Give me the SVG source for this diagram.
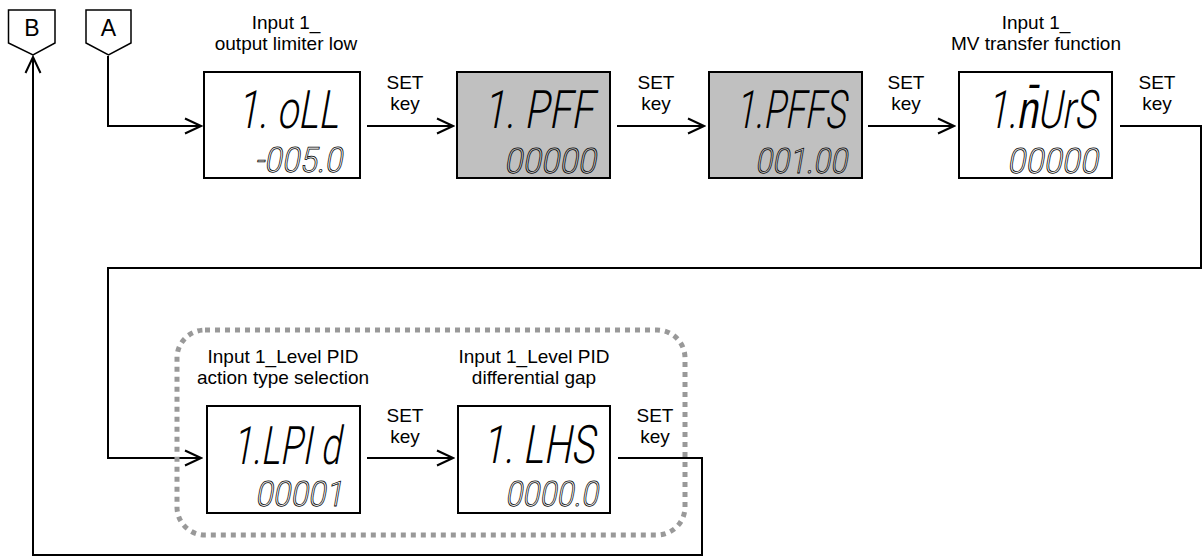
<svg xmlns="http://www.w3.org/2000/svg" width="1203" height="557" viewBox="0 0 1203 557">
<style>
.box{fill:#fff;stroke:#000;stroke-width:2}
.gbox{fill:#c0c0c0;stroke:#000;stroke-width:2}
.lbl{font-family:"Liberation Sans",Arial,sans-serif;font-size:19px;fill:#000;text-anchor:middle}
.tag{font-family:"Liberation Sans",Arial,sans-serif;font-size:23px;fill:#000;text-anchor:middle}
.big{font-family:Roboto,"Liberation Sans",sans-serif;font-weight:300;font-size:53px;fill:#000}
.small{font-family:Roboto,"Liberation Sans",sans-serif;font-weight:300;font-size:35px;fill:none;stroke:#000;stroke-width:0.8}
.ln{fill:none;stroke:#000;stroke-width:2}
.dash{fill:none;stroke:#999;stroke-width:5;stroke-dasharray:5 5}
</style>
<defs>
<marker id="ah" markerUnits="userSpaceOnUse" markerWidth="20" markerHeight="20" viewBox="-18 -10 20 20" refX="0" refY="0" orient="auto">
<path d="M-16,-7.5 L0,0 L-16,7.5" fill="none" stroke="#000" stroke-width="2"/>
</marker>
</defs>

<g id="tagB">
<path d="M8.5,10 H55 V43 L33,55 L8.5,43 Z" fill="#fff" stroke="#000" stroke-width="1.5"/>
<text class="tag" x="32" y="36">B</text>
</g>
<g id="tagA">
<path d="M86,10 H131 V43 L108.5,55 L86,43 Z" fill="#fff" stroke="#000" stroke-width="1.5"/>
<text class="tag" x="108.5" y="36">A</text>
</g>

<g id="connectors">
<path class="ln" d="M108,56 V126 H201" marker-end="url(#ah)"/>
<path class="ln" d="M367,126 H453" marker-end="url(#ah)"/>
<path class="ln" d="M617,126 H704" marker-end="url(#ah)"/>
<path class="ln" d="M868,126 H954" marker-end="url(#ah)"/>
<path class="ln" d="M1120,126 H1201 V268 H108 V458 H201" marker-end="url(#ah)"/>
<path class="ln" d="M367,458 H453" marker-end="url(#ah)"/>
<path class="ln" d="M618,458 H702 V555 H33 V57" marker-end="url(#ah)"/>
<text class="lbl" x="405" y="89">SET</text><text class="lbl" x="405" y="110">key</text>
<text class="lbl" x="656" y="89">SET</text><text class="lbl" x="656" y="110">key</text>
<text class="lbl" x="906" y="89">SET</text><text class="lbl" x="906" y="110">key</text>
<text class="lbl" x="1157" y="89">SET</text><text class="lbl" x="1157" y="110">key</text>
<text class="lbl" x="405" y="422">SET</text><text class="lbl" x="405" y="443">key</text>
<text class="lbl" x="655" y="422">SET</text><text class="lbl" x="655" y="443">key</text>
</g>

<g id="group-level-pid">
<rect class="dash" x="177" y="330" width="508" height="205" rx="28" ry="28"/>
</g>

<g id="node-oLL">
<text class="lbl" x="286" y="29">Input 1_</text>
<text class="lbl" x="286" y="50">output limiter low</text>
<rect class="box" x="204" y="72" width="156" height="106"/>
<g transform="translate(237,128) skewX(-10)"><text class="big" x="0" y="0" textLength="101" lengthAdjust="spacingAndGlyphs">1. oLL</text></g>
<g transform="translate(255,172) skewX(-10)"><text class="small" x="0" y="0" textLength="87" lengthAdjust="spacingAndGlyphs">-005.0</text></g>
</g>

<g id="node-PFF">
<rect class="gbox" x="457" y="72" width="153" height="106"/>
<g transform="translate(483,128) skewX(-10)"><text class="big" x="0" y="0" textLength="110" lengthAdjust="spacingAndGlyphs">1. PFF</text></g>
<g transform="translate(504,173) skewX(-10)"><text class="small" x="0" y="0" textLength="92" lengthAdjust="spacingAndGlyphs">00000</text></g>
</g>

<g id="node-PFFS">
<rect class="gbox" x="709" y="72" width="153" height="106"/>
<g transform="translate(735,128) skewX(-10)"><text class="big" x="0" y="0" textLength="110" lengthAdjust="spacingAndGlyphs">1.PFFS</text></g>
<g transform="translate(755,173) skewX(-10)"><text class="small" x="0" y="0" textLength="92" lengthAdjust="spacingAndGlyphs">001.00</text></g>
</g>

<g id="node-MVRS">
<text class="lbl" x="1036" y="29">Input 1_</text>
<text class="lbl" x="1036" y="50">MV transfer function</text>
<rect class="box" x="959" y="72" width="153" height="106"/>
<g transform="translate(987,128) skewX(-10)"><text class="big" x="0" y="0" textLength="109" lengthAdjust="spacingAndGlyphs">1.n̄UrS</text></g>
<g transform="translate(1007,173) skewX(-10)"><text class="small" x="0" y="0" textLength="91" lengthAdjust="spacingAndGlyphs">00000</text></g>
</g>

<g id="node-LPId">
<text class="lbl" x="283" y="363">Input 1_Level PID</text>
<text class="lbl" x="283" y="384">action type selection</text>
<rect class="box" x="207" y="406" width="153" height="107"/>
<g transform="translate(232,464) skewX(-10)"><text class="big" x="0" y="0" textLength="108" lengthAdjust="spacingAndGlyphs">1.LPI d</text></g>
<g transform="translate(255,506) skewX(-10)"><text class="small" x="0" y="0" textLength="88" lengthAdjust="spacingAndGlyphs">00001</text></g>
</g>

<g id="node-LHS">
<text class="lbl" x="534" y="363">Input 1_Level PID</text>
<text class="lbl" x="534" y="384">differential gap</text>
<rect class="box" x="458" y="406" width="152" height="107"/>
<g transform="translate(482,463) skewX(-10)"><text class="big" x="0" y="0" textLength="112" lengthAdjust="spacingAndGlyphs">1. LHS</text></g>
<g transform="translate(505,506) skewX(-10)"><text class="small" x="0" y="0" textLength="93" lengthAdjust="spacingAndGlyphs">0000.0</text></g>
</g>
</svg>
